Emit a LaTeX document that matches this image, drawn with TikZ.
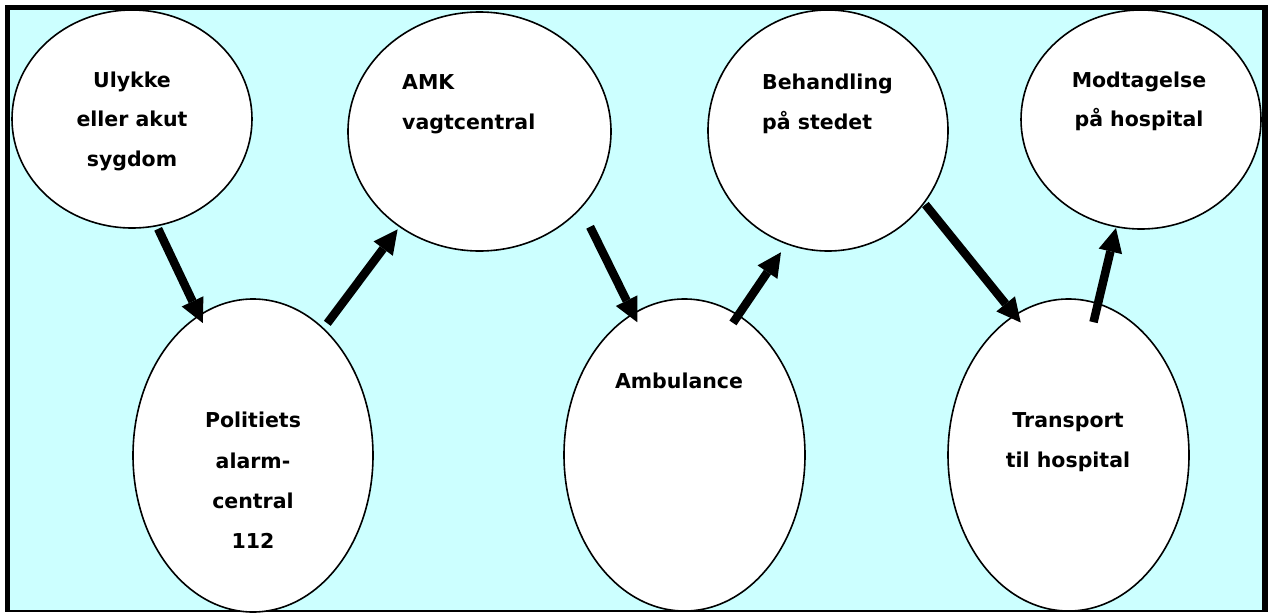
\documentclass[tikz,border=0pt]{standalone}
\usepackage{fontspec}
\setmainfont{DejaVu Sans}
\usetikzlibrary{arrows.meta,shapes.geometric}
\definecolor{bgcyan}{HTML}{CCFFFF}
\begin{document}
\begin{tikzpicture}[x=1pt,y=-1pt,
  stage/.style={ellipse, draw=black, line width=1.6pt, fill=white, inner sep=0pt, outer sep=0pt},
  lbl/.style={font=\fontsize{20.5}{24}\selectfont\bfseries, inner sep=0pt, anchor=base},
  lbll/.style={lbl, anchor=base west},
  flow/.style={line width=8.5pt, -{Triangle[width=24pt,length=24pt,line width=0pt]}},
  frameline/.style={draw=black}]
\useasboundingbox (0,0) rectangle (1268,613);
% background panel
\fill[bgcyan] (7.5,7.5) rectangle (1265,611);
\draw[frameline, line width=1.5pt] (7.5,611) -- (1265,611);
% stages
\node[stage, minimum width=240pt, minimum height=218pt] (u) at (132,119) {};
\node[stage, minimum width=240pt, minimum height=313pt] (p) at (253,455.5) {};
\node[stage, minimum width=263pt, minimum height=239pt] (a) at (479.5,131.5) {};
\node[stage, minimum width=241pt, minimum height=312pt] (m) at (684.5,455) {};
\node[stage, minimum width=240pt, minimum height=241pt] (b) at (828,130.5) {};
\node[stage, minimum width=241pt, minimum height=312pt] (t) at (1068.5,455) {};
\node[stage, minimum width=240pt, minimum height=219pt] (h) at (1141,119.5) {};
% frame borders
\draw[frameline, line width=5pt] (7.5,5) -- (7.5,612);
\draw[frameline, line width=5pt] (5,7.5) -- (1268,7.5);
\draw[frameline, line width=6pt] (1265,5) -- (1265,612);
% labels
\node[lbl] (u1) at (132,87) {Ulykke};
\node[lbl] (u2) at (132,126) {eller akut};
\node[lbl] (u3) at (132,166) {sygdom};
\node[lbl] (p1) at (253,427) {Politiets};
\node[lbl] (p2) at (253,468) {alarm-};
\node[lbl] (p3) at (253,508) {central};
\node[lbl] (p4) at (253,548) {112};
\node[lbll] (a1) at (402,89) {AMK};
\node[lbll] (a2) at (402,129) {vagtcentral};
\node[lbl] (m1) at (679,388) {Ambulance};
\node[lbll] (b1) at (762,89) {Behandling};
\node[lbll] (b2) at (762,129) {på stedet};
\node[lbl] (t1) at (1068,427) {Transport};
\node[lbl] (t2) at (1068,467) {til hospital};
\node[lbl] (h1) at (1139,87) {Modtagelse};
\node[lbl] (h2) at (1139,126) {på hospital};
% arrows
\draw[flow, shorten <=3.5pt, shorten >=-8.3pt] (u.-77.6) -- (p.111.0);
\draw[flow, shorten <=6.7pt, shorten >=3.6pt] (p.61.2) -- (a.-130.3);
\draw[flow, shorten <=21.2pt, shorten >=-9.3pt] (a.-37.75) -- (m.110.55);
\draw[flow, shorten <=-9.2pt, shorten >=10.4pt] (m.69.0) -- (b.-110.5);
\draw[flow, shorten <=2.2pt, shorten >=-9.3pt] (b.-37.3) -- (t.111.3);
\draw[flow, shorten <=-19pt, shorten >=1.4pt] (t.79.2) -- (h.-103.0);
\end{tikzpicture}
\end{document}
